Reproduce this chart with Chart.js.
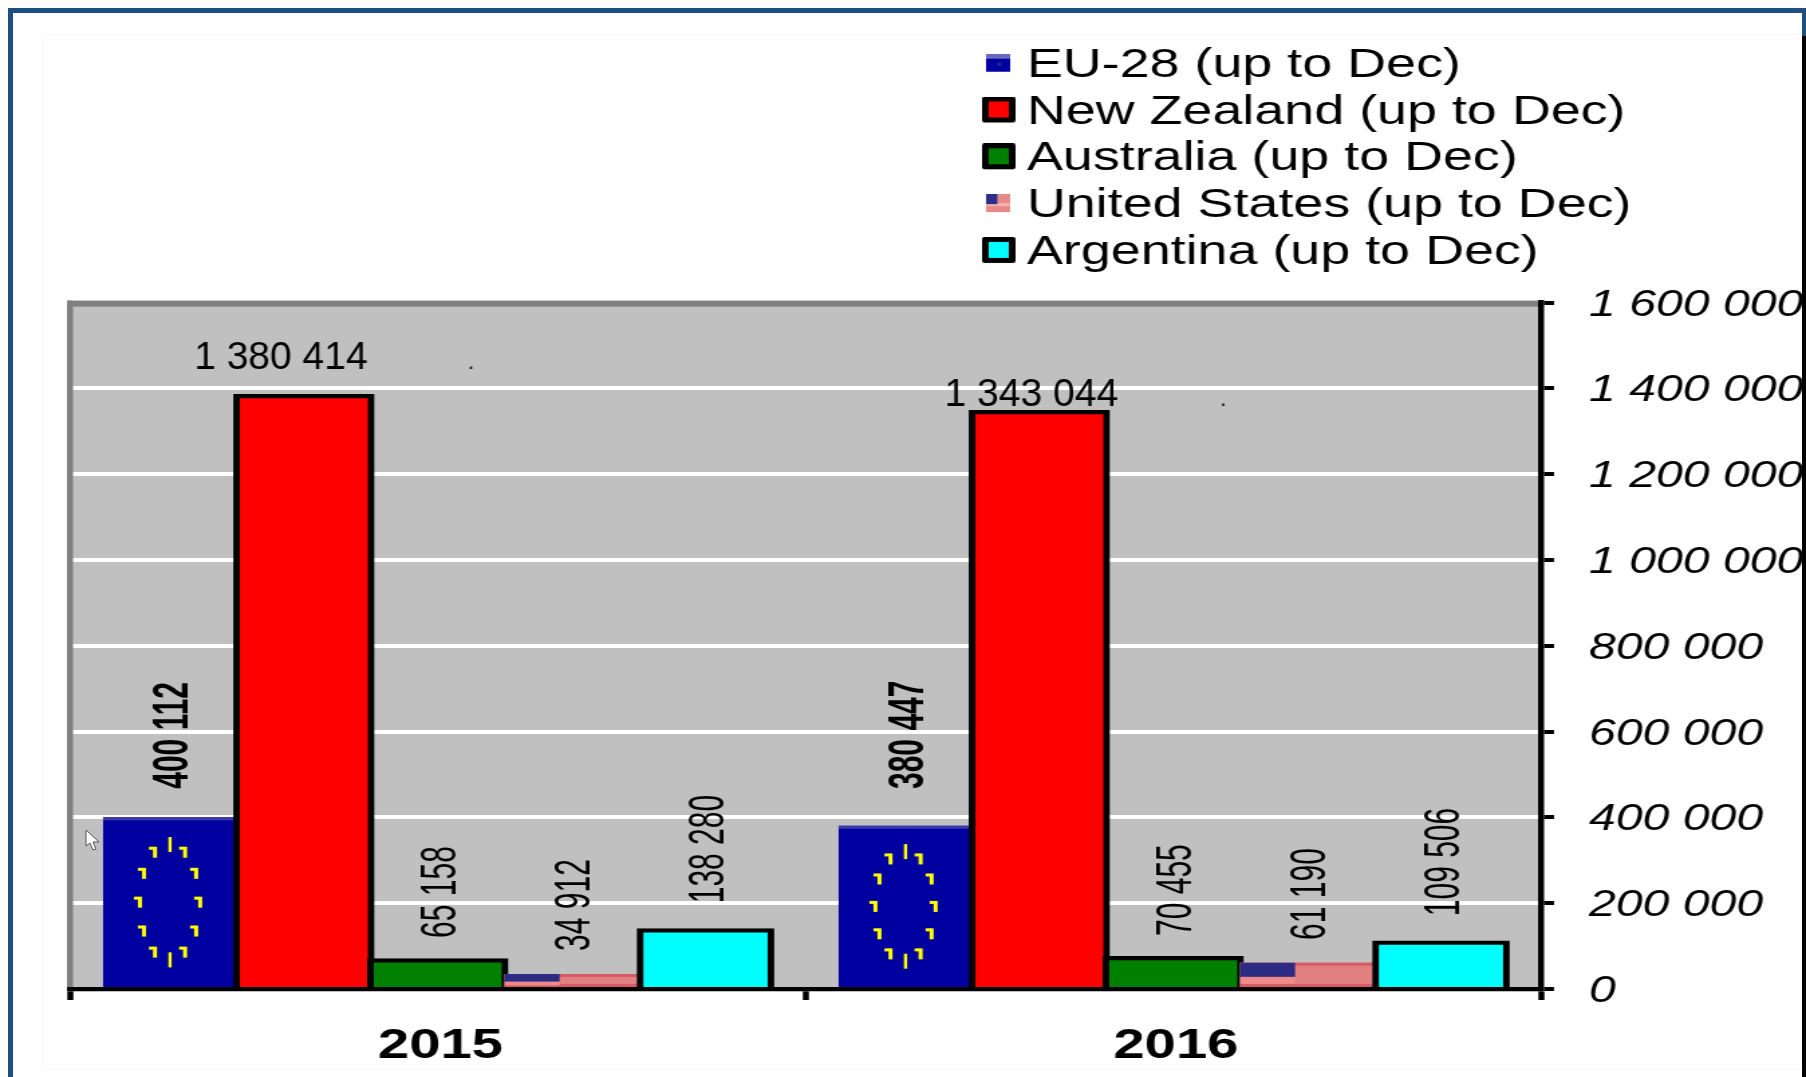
<!DOCTYPE html>
<html>
<head>
<meta charset="utf-8">
<style>
html,body{margin:0;padding:0;background:#fff;width:1806px;height:1077px;overflow:hidden}
canvas{position:absolute;left:0;top:0;transform-origin:0 0;transform:scaleX(1.33976)}
.f{position:absolute;box-sizing:border-box}
</style>
<script src="https://cdn.jsdelivr.net/npm/chart.js@4/dist/chart.umd.js"></script>
</head>
<body>
<canvas id="c" width="1348" height="1077"></canvas>
<div class="f" style="left:42px;top:34px;width:1760px;height:1036px;border:1px solid #f7f7f7;border-right:0"></div>
<div class="f" style="left:8px;top:8px;width:1798px;height:1069px;border-top:5px solid #1f4e82;border-left:5px solid #1f4e82"></div>
<div class="f" style="left:1802px;top:8px;width:4px;height:28px;background:#1f4e82"></div>
<div class="f" style="left:1802px;top:36px;width:4px;height:1041px;background:#000"></div>
<svg class="f" style="left:84px;top:829px" width="20" height="24" viewBox="0 0 20 24"><path d="M2 1 L2 17 L6 14 L9 21 L12 20 L9 13 L15 13 Z" fill="#fff" stroke="#555" stroke-width="1"/></svg>
<script>
const categories = ['2015', '2016'];
const eu28 = [400112, 380447];
const newZealand = [1380414, 1343044];
const australia = [65158, 70455];
const unitedStates = [34912, 61190];
const argentina = [138280, 109506];
const seriesNames = ['EU-28 (up to Dec)', 'New Zealand (up to Dec)', 'Australia (up to Dec)', 'United States (up to Dec)', 'Argentina (up to Dec)'];
const yTicksMax = 1600000, yTickStep = 200000;

const S = 1806 / 1348;
const FONT = '"Liberation Sans", Arial, sans-serif';
const fmt = v => String(v).replace(/\B(?=(\d{3})+$)/g, ' ');

/* Swatch canvases carry extra transparent room at the bottom so that
   the mark sits slightly above the point where the legend centres it. */
function swatchCanvas(w, h) {
  const c = document.createElement('canvas'); c.width = w; c.height = h + 6;
  return c;
}
function boxSwatch(color) {
  const c = swatchCanvas(25, 26);
  const g = c.getContext('2d');
  g.fillStyle = '#000'; g.beginPath(); g.roundRect(0, 0, 25, 26, 2); g.fill();
  g.fillStyle = color; g.fillRect(5, 5, 15, 16);
  return c;
}
function euSwatch() {
  const c = swatchCanvas(18, 18);
  const g = c.getContext('2d');
  g.fillStyle = '#0000a0'; g.fillRect(0, 0, 18, 18);
  g.fillStyle = '#6a6ac0'; g.fillRect(0, 0, 18, 5);
  g.fillStyle = '#2a2a90'; g.fillRect(8, 9, 3, 3);
  return c;
}
function usSwatch() {
  const c = swatchCanvas(18, 18);
  const g = c.getContext('2d');
  g.fillStyle = '#e88a8a'; g.fillRect(0, 0, 18, 18);
  g.fillStyle = '#f2b0b0'; g.fillRect(0, 9, 18, 3);
  g.fillStyle = '#2e2e88'; g.fillRect(0, 0, 8, 10);
  return c;
}
const swatches = [euSwatch(), boxSwatch('#ff0000'), boxSwatch('#008000'), usSwatch(), boxSwatch('#00ffff')];

function drawEuFlag(ctx, el) {
  const w = el.width, h = el.base - el.y, l = el.x - w / 2, t = el.y;
  ctx.save();
  ctx.fillStyle = '#3a3aa8'; ctx.fillRect(l, t, w, 3);
  const cx = el.x, cy = t + h * 0.5, rx = w * 0.225, ry = h * 0.34;
  ctx.fillStyle = '#ffff00';
  for (let i = 0; i < 12; i++) {
    const a = i * Math.PI / 6;
    const x = cx + rx * Math.sin(a), y = cy - ry * Math.cos(a);
    const pole = i % 6 === 0;
    const tall = pole ? 15 : 11;
    const wide = pole ? 2.4 : 3;
    ctx.fillRect(x - wide / 2, y - tall / 2, wide, tall);
    if (!pole) { ctx.fillRect(x - wide * 1.5, y - tall / 2, wide * 1.2, 3); }
  }
  ctx.restore();
}
function drawUsFlag(ctx, el) {
  const w = el.width, h = el.base - el.y, l = el.x - w / 2, t = el.y;
  ctx.save();
  ctx.fillStyle = '#e08080'; ctx.fillRect(l, t, w, h);
  ctx.fillStyle = '#d85a62'; ctx.fillRect(l, t, w, 3); ctx.fillRect(l, el.base - 3, w, 3);
  ctx.fillStyle = '#ee8c8c'; ctx.fillRect(l, t + h * 0.6, w * 0.41, h * 0.27);
  ctx.fillStyle = '#2c2c84'; ctx.fillRect(l, t, w * 0.41, h * 0.58);
  ctx.restore();
}

/* label placement, in screen pixels relative to each bar: [dx, distance of label centre above bar top] */
const labelPlace = [
  [[-1, 82], [0, 91]],
  [[-23, 41], [-8, 20]],
  [[0, 69], [0, 68.7]],
  [[0, 69], [0, 68.7]],
  [[0, 80.6], [0, 80]]
];
const dotOffset = [190, 192];

const customPlugin = {
  id: 'custom',
  beforeDraw(chart) {
    const a = chart.chartArea, g = chart.ctx;
    g.save(); g.fillStyle = '#c0c0c0';
    g.fillRect(a.left, a.top, a.right - a.left, a.bottom - a.top);
    g.restore();
    const lg = chart.legend;
    lg.left = 744.6 - 6.8; lg.right = 1348; lg.top = 39;
    lg.draw = lg._draw; /* no clip to the legend box: swatches hang left of it */
  },
  beforeDatasetsDraw(chart) {
    const a = chart.chartArea, g = chart.ctx;
    g.save(); g.fillStyle = '#808080';
    g.fillRect(a.left - 2.25, a.top - 2, a.right - a.left + 2.25, 6);
    g.fillRect(a.left - 2.25, a.top - 2, 4.5, a.bottom - a.top + 2);
    g.restore();
  },
  beforeDatasetDraw() { return false; },
  afterDatasetsDraw(chart) {
    const g = chart.ctx;
    chart.data.datasets.forEach((ds, i) => {
      const meta = chart.getDatasetMeta(i);
      meta.controller.draw();
      meta.data.forEach(el => {
        if (i === 0) drawEuFlag(g, el);
        if (i === 3) drawUsFlag(g, el);
      });
    });
    chart.data.datasets.forEach((ds, i) => {
      chart.getDatasetMeta(i).data.forEach((el, j) => {
        const [dx, up] = labelPlace[i][j];
        const x = el.x + dx / S, y = el.y - up, txt = fmt(ds.data[j]);
        g.save();
        g.fillStyle = '#000';
        g.textAlign = 'center';
        g.textBaseline = 'alphabetic';
        g.translate(x, y);
        if (i === 1) {
          g.scale(1 / S, 1);
          g.font = '39px ' + FONT;
          g.fillText(txt, 0, 13);
          g.font = '22px ' + FONT;
          g.fillText('.', dotOffset[j], 13);
        } else {
          g.rotate(-Math.PI / 2);
          g.scale(0.8, 1);
          g.font = (i === 0 ? 'bold ' : '') + '37.5px ' + FONT;
          g.fillText(txt, 0, 13.4);
        }
        g.restore();
      });
    });
  }
};

const stroked = (color, inflate) => ({
  backgroundColor: color, borderColor: '#000',
  borderWidth: { top: 4.2, left: 5, right: 5, bottom: 0 },
  borderSkipped: false, inflateAmount: inflate
});
const flat = color => ({ backgroundColor: color, borderWidth: 0, inflateAmount: 0 });

new Chart(document.getElementById('c'), {
  type: 'bar',
  data: {
    labels: categories,
    datasets: [
      Object.assign({ label: seriesNames[0], data: eu28 }, flat('#0000a0')),
      Object.assign({ label: seriesNames[1], data: newZealand }, stroked('#ff0000', 2.8)),
      Object.assign({ label: seriesNames[2], data: australia }, stroked('#008000', 2.8)),
      Object.assign({ label: seriesNames[3], data: unitedStates }, flat('#e08080')),
      Object.assign({ label: seriesNames[4], data: argentina }, stroked('#00ffff', 1.4))
    ]
  },
  plugins: [customPlugin],
  options: {
    responsive: false,
    animation: false,
    devicePixelRatio: 1,
    barPercentage: 1,
    categoryPercentage: 0.91,
    layout: { padding: { left: 70 / S, top: 199, right: 0, bottom: 0 } },
    plugins: {
      tooltip: { enabled: false },
      legend: {
        position: 'top',
        align: 'start',
        labels: {
          usePointStyle: true,
          pointStyleWidth: 2,
          padding: 6.6,
          color: '#000',
          font: { family: FONT, size: 40.2 },
          generateLabels: c => c.data.datasets.map((d, i) => ({
            text: d.label, datasetIndex: i, pointStyle: swatches[i], hidden: false, fontColor: '#000'
          }))
        }
      }
    },
    scales: {
      x: {
        afterFit(s) { s.height = 1077 - 989; },
        grid: { drawOnChartArea: false, drawTicks: true, tickLength: 11, tickColor: '#000', tickWidth: 4.5, color: '#000' },
        border: { color: '#000', width: 4.3, z: 1 },
        ticks: { color: '#000', font: { family: FONT, size: 42, weight: 'bold' }, padding: 21, labelOffset: 2, maxRotation: 0, autoSkip: false }
      },
      y: {
        position: 'right',
        min: 0,
        max: yTicksMax,
        afterFit(s) { s.width = (1806 - 1541) / S; },
        grid: {
          lineWidth: 4,
          color: c => (c.tick && (c.tick.value === yTicksMax || c.tick.value === 0)) ? 'rgba(0,0,0,0)' : '#ffffff',
          tickColor: '#000', tickWidth: 4, tickLength: 9.7
        },
        border: { color: '#000', width: 4.5, z: 1 },
        ticks: {
          stepSize: yTickStep, color: '#000', padding: 26, labelOffset: 3,
          font: { family: FONT, size: 36, style: 'italic' },
          callback: v => fmt(v)
        }
      }
    }
  }
});
</script>
</body>
</html>
